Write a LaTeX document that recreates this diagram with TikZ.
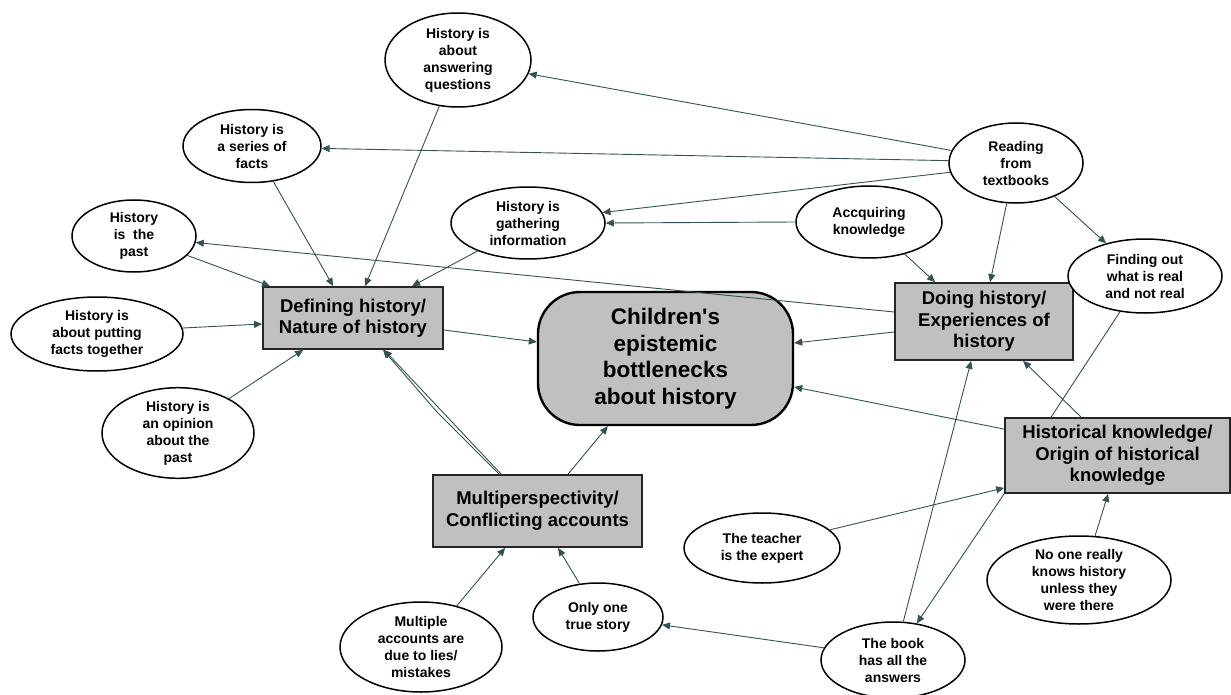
\documentclass[tikz,border=0pt]{standalone}
\usepackage{fontspec}
\setmainfont{Liberation Sans}[Ligatures=TeXOff]
\usetikzlibrary{shapes.geometric,arrows.meta}
\definecolor{lnk}{RGB}{52,82,84}
\definecolor{boxgray}{RGB}{192,192,192}
\tikzset{
  ell/.style={ellipse, draw=black, line width=1.5pt, fill=white, inner sep=0pt, align=center,
    font=\fontsize{14}{17}\selectfont\bfseries},
  cat/.style={rectangle, draw=black!85, line width=1.8pt, fill=boxgray, inner sep=0pt, align=center,
    font=\fontsize{18.5}{21.5}\selectfont\bfseries},
  core/.style={rectangle, rounded corners=42pt, draw=black, line width=2.4pt, fill=boxgray, inner sep=0pt, align=center,
    font=\fontsize{22.5}{26.5}\selectfont\bfseries},
  arr/.style={draw=lnk, line width=0.9pt, -{Triangle[length=8pt,width=7pt]}},
  ln/.style={draw=lnk, line width=0.9pt}
}
\begin{document}
\begin{tikzpicture}[x=1pt,y=-1pt]
\useasboundingbox (0,0) rectangle (1231,695);
% nodes
\node[core, minimum width=255pt, minimum height=133pt] (cen) at (665.5,358.5) {Children's\\epistemic\\bottlenecks\\about history};
\node[cat, minimum width=180pt, minimum height=62pt] (def) at (353,318) {Defining history/\\Nature of history};
\node[cat, minimum width=178pt, minimum height=77pt] (doing) at (984,321.5) {Doing history/\\Experiences of\\history};
\node[cat, minimum width=225pt, minimum height=75pt] (hist) at (1117.5,455.5) {Historical knowledge/\\Origin of historical\\knowledge};
\node[cat, minimum width=209pt, minimum height=72pt] (multi) at (537.5,511) {Multiperspectivity/\\Conflicting accounts};

\node[ell, minimum width=146pt, minimum height=94pt] (ans) at (458,60) {History is\\about\\answering\\questions};
\node[ell, minimum width=138pt, minimum height=73pt] (ser) at (252,146) {History is\\a series of\\facts};
\node[ell, minimum width=124pt, minimum height=72pt] (past) at (134,236) {History\\is\hspace{0.55em}the\\past};
\node[ell, minimum width=172pt, minimum height=74pt] (put) at (97,334) {History is\\about putting\\facts together};
\node[ell, minimum width=152pt, minimum height=88pt] (op) at (178,433) {History is\\an opinion\\about the\\past};
\node[ell, minimum width=154pt, minimum height=72pt] (gath) at (528,223) {History is\\gathering\\information};
\node[ell, minimum width=134pt, minimum height=80pt] (read) at (1016,163) {Reading\\from\\textbooks};
\node[ell, minimum width=146pt, minimum height=72pt] (acq) at (869,222) {Accquiring\\knowledge};
\node[ell, minimum width=154pt, minimum height=74pt] (find) at (1145,276) {Finding out\\what is real\\and not real};
\node[ell, minimum width=156pt, minimum height=70pt] (teach) at (762,548) {The teacher\\is the expert};
\node[ell, minimum width=184pt, minimum height=88pt] (noone) at (1079,580) {No one really\\knows history\\unless they\\were there};
\node[ell, minimum width=144pt, minimum height=76pt] (book) at (893,660) {The book\\has all the\\answers};
\node[ell, minimum width=130pt, minimum height=68pt] (only) at (598,617) {Only one\\true story};
\node[ell, minimum width=162pt, minimum height=90pt] (macc) at (421,647) {Multiple\\accounts are\\due to lies/\\mistakes};

\coordinate (bend) at (437,412);

% connectors
\draw[arr] (ans.248) -- ([xshift=103pt]def.north west);
\draw[arr] (ser.301) -- ([xshift=71pt]def.north west);
\draw[arr] (past.340) -- ([xshift=8pt]def.north west);
\draw[arr] (put.4) -- ([yshift=-6pt]def.west);
\draw[arr] (gath.209) -- ([xshift=150pt]def.north west);
\draw[arr] (op.34) -- ([xshift=41pt]def.south west);
\draw[arr] ([xshift=69pt]multi.north west) -- ([xshift=122pt]def.south west);
\draw[arr] ([xshift=67pt]multi.north west) -- (bend) -- ([xshift=121pt]def.south west);
\draw[arr] ([xshift=136pt]multi.north west) -- ([xshift=71pt]cen.south west);
\draw[arr] ([yshift=-12pt]def.east) -- ([yshift=16.5pt]cen.west);
\draw[arr] ([yshift=-10.5pt]doing.west) -- ([yshift=15.5pt]cen.east);
\draw[arr] ([yshift=-12pt]hist.north west) -- ([yshift=-28.5pt]cen.east);
\draw[arr] ([yshift=9.5pt]doing.west) -- (past.354);
\draw[arr] (read.169) -- (ans.349);
\draw[arr] (read.178) -- (ser.358);
\draw[arr] (read.188) -- (gath.8);
\draw[arr] (acq.180) -- (gath.0);
\draw[arr] (read.257) -- ([xshift=96pt]doing.north west);
\draw[arr] (acq.318) -- ([xshift=41pt]doing.north west);
\draw[arr] (read.319) -- (find.140);
\draw[ln] (find.235) -- ([xshift=47pt]hist.north west);
\draw[arr] ([xshift=77pt]hist.north west) -- ([xshift=129pt]doing.south west);
\draw[arr] (book.75) -- ([xshift=77pt]doing.south west);
\draw[arr] (hist.south west) -- (book.57);
\draw[arr] (teach.15) -- ([yshift=6pt]hist.south west);
\draw[arr] (noone.70) -- ([xshift=104pt]hist.south west);
\draw[arr] (book.170) -- (only.353);
\draw[arr] (only.119) -- ([xshift=126pt]multi.south west);
\draw[arr] (macc.49) -- ([xshift=73pt]multi.south west);
\end{tikzpicture}
\end{document}
